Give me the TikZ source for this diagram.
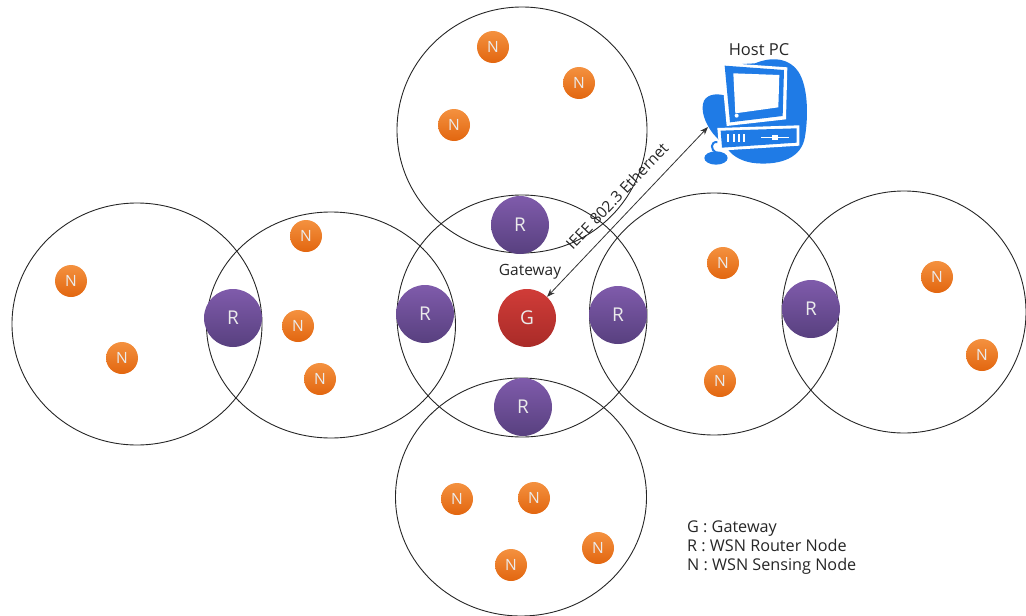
\documentclass[tikz,border=0pt]{standalone}
\usepackage{fontspec}
\setmainfont{Open Sans}
\usetikzlibrary{arrows.meta,shadings}
\definecolor{pcblue}{HTML}{1F7BE6}
\definecolor{violet1}{HTML}{7F5BAB}
\definecolor{violet2}{HTML}{58407F}
\definecolor{red1}{HTML}{D03C38}
\definecolor{red2}{HTML}{A92B28}
\definecolor{orange1}{HTML}{F4913F}
\definecolor{orange2}{HTML}{E2660F}
\tikzset{
  zone/.style={draw=black!85,line width=0.9pt,fill=none},
  dev/.style={circle,minimum size=#1,inner sep=0pt,text=white!92!black,font=\fontsize{19}{22}\selectfont},
  rnode/.style={dev=58pt,top color=violet1,bottom color=violet2},
  gnode/.style={dev=58pt,top color=red1,bottom color=red2},
  nnode/.style={dev=32pt,top color=orange1,bottom color=orange2,font=\fontsize{15.5}{18}\selectfont},
  lab/.style={font=\fontsize{15.5}{18}\selectfont,text=black!85,inner sep=0pt},
  leg/.style={lab,anchor=west,font=\fontsize{16.2}{18}\selectfont,text height=12pt,text depth=4pt},
  link/.style={draw=black!80,line width=0.8pt,{Stealth[length=8pt,width=6pt]}-{Stealth[length=8pt,width=6pt]}},
}
\begin{document}
\begin{tikzpicture}[x=1pt,y=-1pt]
\useasboundingbox (0,0) rectangle (1026,616);
% zones
\draw[zone] (137,324) ellipse [x radius=125,y radius=121];
\draw[zone] (331,325) ellipse [x radius=124.5,y radius=113];
\draw[zone] (522,316) ellipse [x radius=125,y radius=121];
\draw[zone] (522,130) ellipse [x radius=125,y radius=123];
\draw[zone] (521,497) ellipse [x radius=125.5,y radius=119];
\draw[zone] (714,314) ellipse [x radius=124.5,y radius=121];
\draw[zone] (904,312) ellipse [x radius=122,y radius=121];
% routers and gateway
\node[rnode] (r1) at (520,225) {R};
\node[rnode] (r2) at (233,318) {R};
\node[rnode] (r3) at (425,314) {R};
\node[rnode] (r4) at (618,315) {R};
\node[rnode] (r5) at (811,309) {R};
\node[rnode] (r6) at (523,407) {R};
\node[gnode] (g) at (527,318) {G};
% sensing nodes
\node[nnode] (n1) at (493,47) {N};
\node[nnode] (n2) at (579,83) {N};
\node[nnode] (n3) at (454,125) {N};
\node[nnode] (n4) at (306,236) {N};
\node[nnode] (n5) at (71,281) {N};
\node[nnode] (n6) at (122,358) {N};
\node[nnode] (n7) at (298,326) {N};
\node[nnode] (n8) at (320,379) {N};
\node[nnode] (n9) at (723,263) {N};
\node[nnode] (n10) at (720,381) {N};
\node[nnode] (n11) at (937,277) {N};
\node[nnode] (n12) at (982,355) {N};
\node[nnode] (n13) at (457,499) {N};
\node[nnode] (n14) at (534,498) {N};
\node[nnode] (n15) at (598,548) {N};
\node[nnode] (n16) at (511,565) {N};
% host PC icon
\begin{scope}[shift={(680,30)},x=0.3333pt,y=-0.3333pt]
  \fill[pcblue] (225,100) .. controls (260,85) and (320,75) .. (355,125)
     .. controls (385,170) and (385,260) .. (375,320)
     .. controls (365,385) and (300,405) .. (230,400)
     .. controls (190,397) and (160,380) .. (145,360)
     -- (100,312) .. controls (75,280) and (60,240) .. (72,212)
     .. controls (85,190) and (115,190) .. (140,198) -- (130,105) -- cycle;
  \fill[white] (122,98) -- (322,112) -- (318,268) -- (140,288) -- cycle;
  \fill[pcblue] (134,107) -- (312,120) -- (308,258) -- (150,277) -- cycle;
  \fill[white] (160,130) -- (298,135) -- (295,232) -- (166,250) -- cycle;
  \fill[white] (170,257) circle (6);
  \fill[white] (112,294) -- (358,286) -- (358,347) -- (118,362) -- cycle;
  \fill[pcblue] (122,302) -- (350,295) -- (350,338) -- (126,353) -- cycle;
  \foreach \vx in {142,158,174,190}{\fill[white] (\vx,311) rectangle +(6,26);}
  \fill[white] (242,320) rectangle (328,325);
  \fill[white] (276,314) rectangle (294,331);
  \draw[pcblue,line width=2pt] (112,336) .. controls (90,335) and (92,360) .. (108,368);
  \fill[pcblue] (108,384) ellipse [x radius=35,y radius=20];
\end{scope}
\coordinate (host) at (708,127);
\node[lab,font=\fontsize{16.5}{18}\selectfont] (hostlab) at (759,50) {Host PC};
\node[lab] (gwlab) at (530,272) {Gateway};
% link
\draw[link] (g) -- (host);
\node[lab,rotate=46.5] (linklab) at (617,196) {IEEE 802.3 Ethernet};
% legend
\node[leg] (leg1) at (687,528) {G : Gateway};
\node[leg] (leg2) at (687,547.5) {R : WSN Router Node};
\node[leg] (leg3) at (687,566) {N : WSN Sensing Node};
\end{tikzpicture}
\end{document}
